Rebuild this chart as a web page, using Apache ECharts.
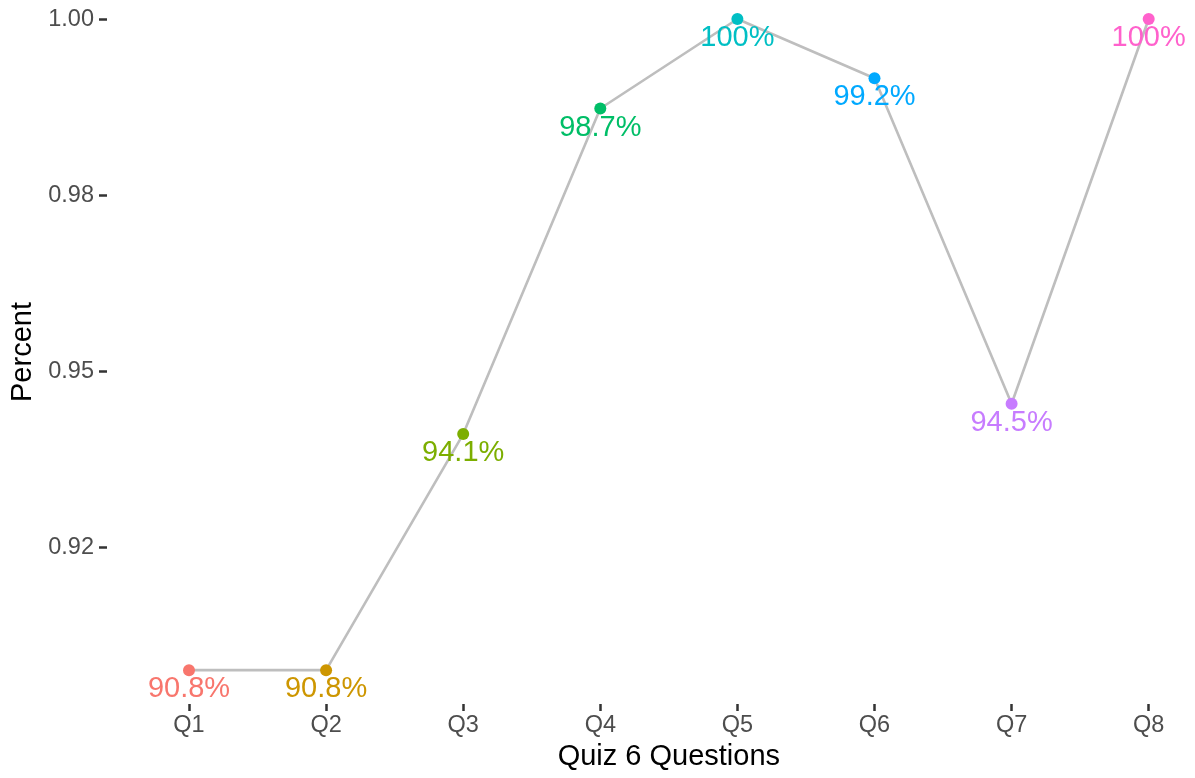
<!DOCTYPE html>
<html>
<head>
<meta charset="utf-8">
<style>
  html, body { margin: 0; padding: 0; background: #ffffff; }
  #chart { width: 1195px; height: 778px; }
</style>
<script src="https://cdn.jsdelivr.net/npm/echarts@6/dist/echarts.min.js"></script>
</head>
<body>
<div id="chart"></div>
<script>
// Share of correct answers for each question of quiz 6
const questions = ['Q1', 'Q2', 'Q3', 'Q4', 'Q5', 'Q6', 'Q7', 'Q8'];
const percentCorrect = [0.9076, 0.9076, 0.9411, 0.9873, 1.0, 0.9916, 0.9454, 1.0];
const pointColors = ['#F8766D', '#CD9600', '#7CAE00', '#00BE67', '#00BFC4', '#00A9FF', '#C77CFF', '#FF61CC'];

// y-axis breaks and their printed labels
const yTickValues = [0.925, 0.95, 0.975, 1.0];
const yTickLabels = ['0.92', '0.95', '0.98', '1.00'];

const FONT = '"Liberation Sans", Arial, Helvetica, sans-serif';

function pctLabel(v) {
  return +(v * 100).toFixed(1) + '%';
}

const chart = echarts.init(document.getElementById('chart'), null, { renderer: 'canvas' });

chart.setOption({
  animation: false,
  backgroundColor: '#ffffff',
  grid: { left: 189, right: 46.3, top: 0, bottom: 74, containLabel: false },
  xAxis: {
    type: 'category',
    data: questions,
    boundaryGap: false,
    name: 'Quiz 6 Questions',
    nameLocation: 'middle',
    nameGap: 38,
    nameTextStyle: { color: '#000000', fontSize: 29, fontFamily: FONT },
    axisLine: { show: false },
    axisTick: { show: true, length: 7, lineStyle: { color: '#333333', width: 2.5 } },
    axisLabel: { margin: 10, color: '#4D4D4D', fontSize: 23.5, fontFamily: FONT },
    splitLine: { show: false }
  },
  yAxis: {
    type: 'value',
    min: 0.9028,
    max: 1.0027,
    offset: 82,
    name: 'Percent',
    nameLocation: 'middle',
    nameGap: 70,
    nameRotate: 90,
    nameTextStyle: { color: '#000000', fontSize: 29, fontFamily: FONT },
    axisLine: { show: false },
    axisTick: {
      show: true, length: 8, customValues: yTickValues,
      lineStyle: { color: '#333333', width: 2.5 }
    },
    axisLabel: {
      margin: 13, color: '#4D4D4D', fontSize: 23.5, fontFamily: FONT,
      customValues: yTickValues,
      formatter: function (v) {
        const i = yTickValues.findIndex(t => Math.abs(t - v) < 1e-9);
        return i >= 0 ? yTickLabels[i] : '';
      }
    },
    splitLine: { show: false }
  },
  series: [{
    type: 'line',
    data: percentCorrect.map((v, i) => ({
      value: v,
      itemStyle: { color: pointColors[i] },
      label: { color: pointColors[i] }
    })),
    symbol: 'circle',
    symbolSize: 12,
    clip: false,
    lineStyle: { color: '#BEBEBE', width: 2.6 },
    itemStyle: { borderWidth: 0 },
    label: {
      show: true,
      position: 'inside',
      offset: [0, 19],
      fontSize: 29,
      fontFamily: FONT,
      formatter: p => pctLabel(p.value)
    },
    emphasis: { disabled: true }
  }]
});
</script>
</body>
</html>
